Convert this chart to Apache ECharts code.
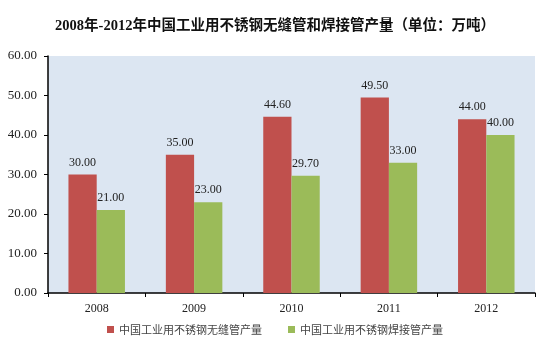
<!DOCTYPE html>
<html><head><meta charset="utf-8">
<script src="https://cdn.jsdelivr.net/npm/echarts@6/dist/echarts.min.js"></script>
<style>html,body{margin:0;padding:0;background:#fff}#c{width:550px;height:352px}</style>
</head><body><div id="c"></div>
<script>
var categories = ['2008', '2009', '2010', '2011', '2012'];
var seamless = [30.00, 35.00, 44.60, 49.50, 44.00];
var welded = [21.00, 23.00, 29.70, 33.00, 40.00];
var seriesNames = ['中国工业用不锈钢无缝管产量', '中国工业用不锈钢焊接管产量'];
var titleText = '2008年-2012年中国工业用不锈钢无缝管和焊接管产量（单位：万吨）';

var serif = '"Liberation Serif", "Noto Sans CJK SC", serif';
var chart = echarts.init(document.getElementById('c'), null, {renderer: 'canvas'});
chart.setOption({
  animation: false,
  backgroundColor: '#fff',
  title: {
    text: titleText, left: 'center', top: 14,
    textStyle: {fontFamily: serif, fontSize: 14.5, fontWeight: 'bold', color: '#111'}
  },
  legend: {
    bottom: 12, left: 'center', itemWidth: 7, itemHeight: 7, itemGap: 26,
    icon: 'rect',
    textStyle: {fontFamily: '"Noto Sans CJK SC", sans-serif', fontSize: 11, color: '#444'},
    data: seriesNames
  },
  grid: {
    left: 48, right: 15, top: 56, bottom: 59, show: true,
    backgroundColor: '#DCE6F2', borderWidth: 0
  },
  xAxis: {
    type: 'category', data: categories,
    axisLine: {lineStyle: {color: '#000', width: 1.5}},
    axisTick: {show: true, alignWithLabel: false, length: 4, lineStyle: {color: '#000'}},
    axisLabel: {fontFamily: serif, fontSize: 12, color: '#222', margin: 10}
  },
  yAxis: {
    type: 'value', min: 0, max: 60, interval: 10,
    axisLine: {show: true, lineStyle: {color: '#000', width: 1.5}},
    axisTick: {show: true, length: 4, lineStyle: {color: '#000'}},
    splitLine: {show: false},
    axisLabel: {fontFamily: serif, fontSize: 13, color: '#222', margin: 11,
      formatter: function (v) { return v.toFixed(2); }}
  },
  series: [
    {
      name: seriesNames[0], type: 'bar', data: seamless,
      barGap: '0%', barCategoryGap: '42%',
      itemStyle: {color: '#C0504D'},
      label: {show: true, position: 'top', distance: 6, fontFamily: serif, fontSize: 12, color: '#222',
        formatter: function (p) { return p.value.toFixed(2); }}
    },
    {
      name: seriesNames[1], type: 'bar', data: welded,
      itemStyle: {color: '#9BBB59'},
      label: {show: true, position: 'top', distance: 6, fontFamily: serif, fontSize: 12, color: '#222',
        formatter: function (p) { return p.value.toFixed(2); }}
    }
  ]
});
</script></body></html>
